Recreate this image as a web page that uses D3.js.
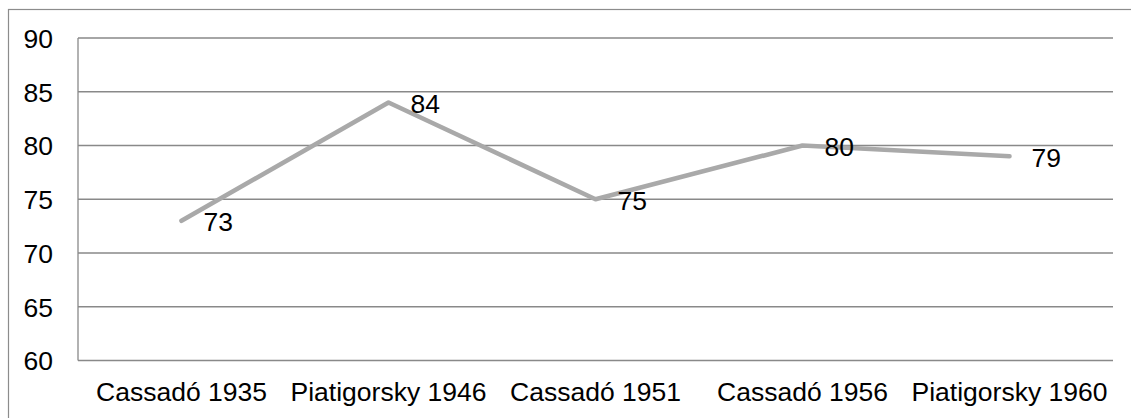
<!DOCTYPE html>
<html>
<head>
<meta charset="utf-8">
<script src="https://cdn.jsdelivr.net/npm/d3@7"></script>
<style>
  html, body { margin: 0; padding: 0; background: #fff; }
  svg { display: block; }
  text { font-family: "Liberation Sans", Arial, sans-serif; fill: #000; }
</style>
</head>
<body>
<svg id="chart" width="1131" height="418"></svg>
<script>
const categories = ["Cassadó 1935", "Piatigorsky 1946", "Cassadó 1951", "Cassadó 1956", "Piatigorsky 1960"];
const values = [73, 84, 75, 80, 79];
const yTicks = [60, 65, 70, 75, 80, 85, 90];

const W = 1131, H = 418;
const FS = "26.5px";
const margin = { left: 78, top: 38, right: 18, bottom: 57.5 };
const svg = d3.select("#chart");

// outer frame (only left and top visible)
svg.append("rect")
  .attr("x", 8.5).attr("y", 9.5)
  .attr("width", W + 10).attr("height", H + 10)
  .attr("fill", "none").attr("stroke", "#8c8c8c").attr("stroke-width", 1.2);

const x = d3.scaleBand().domain(categories)
  .range([margin.left, W - margin.right]);
const y = d3.scaleLinear().domain([60, 90])
  .range([H - margin.bottom, margin.top]);

// gridlines
svg.append("g").selectAll("line").data(yTicks).join("line")
  .attr("x1", margin.left).attr("x2", W - margin.right)
  .attr("y1", d => y(d)).attr("y2", d => y(d))
  .attr("stroke", "#898989").attr("stroke-width", 1.3);

// y axis line
svg.append("line")
  .attr("x1", margin.left).attr("x2", margin.left)
  .attr("y1", y(90)).attr("y2", y(60))
  .attr("stroke", "#898989").attr("stroke-width", 1.3);

// y tick labels
const yAxis = d3.axisLeft(y).tickValues(yTicks).tickSize(0).tickPadding(25);
const gy = svg.append("g").attr("transform", `translate(${margin.left},0)`).call(yAxis);
gy.select(".domain").remove();
gy.selectAll("text").style("font-size", FS).style("font-family", '"Liberation Sans", Arial, sans-serif').attr("fill", "#000").attr("dy", "0.35em");

// x labels
const xAxis = d3.axisBottom(x).tickSize(0).tickPadding(0);
const gx = svg.append("g").attr("transform", `translate(0,${y(60)})`).call(xAxis);
gx.select(".domain").remove();
gx.selectAll("text").style("font-size", FS).style("font-family", '"Liberation Sans", Arial, sans-serif').attr("fill", "#000").attr("dy", null).attr("y", 40.5);

// line
const line = d3.line().x((d, i) => x(categories[i]) + x.bandwidth() / 2).y(d => y(d));
svg.append("path").datum(values)
  .attr("d", line)
  .attr("fill", "none").attr("stroke", "#a9a9a9").attr("stroke-width", 4.6)
  .attr("stroke-linecap", "round").attr("stroke-linejoin", "round");

// data labels
svg.append("g").selectAll("text").data(values).join("text")
  .attr("x", (d, i) => x(categories[i]) + x.bandwidth() / 2 + 22)
  .attr("y", d => y(d) + 1)
  .attr("dy", "0.35em")
  .style("font-size", FS)
  .text(d => d);
</script>
</body>
</html>
